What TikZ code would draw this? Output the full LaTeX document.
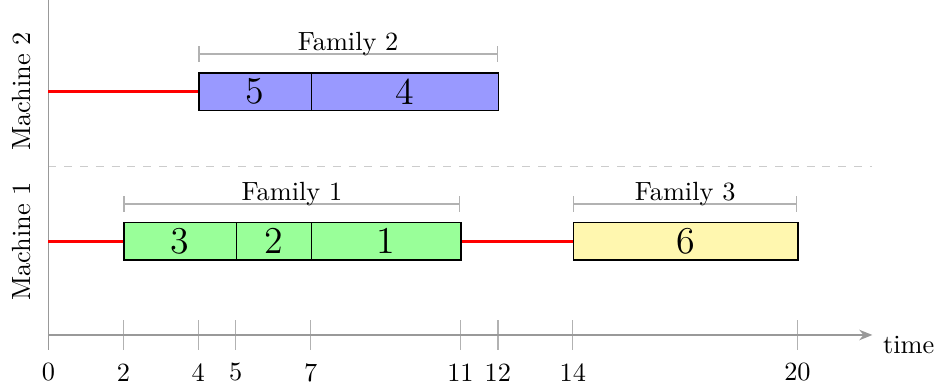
\documentclass[tikz,border=0pt]{standalone}
\usetikzlibrary{arrows.meta}
\definecolor{paleyellow}{RGB}{255,247,175}
\begin{document}
\begin{tikzpicture}[x=0.5cm,y=0.5cm,
  jobbox/.style={draw=black, line width=0.5pt, minimum height=5mm, minimum width=#1*5mm,
                 inner sep=0pt, anchor=west, font=\Large},
  idle/.style={red, line width=1pt},
  axisline/.style={gray!80, line width=0.5pt},
  tickline/.style={gray!60, line width=0.5pt},
  sepline/.style={gray!40, line width=0.5pt, dashed},
  famline/.style={gray!60, line width=0.5pt, {Bar[width=6pt]}-{Bar[width=6pt]}},
  famlabel/.style={anchor=base, inner sep=0pt},
  ticklabel/.style={inner sep=0pt},
  machlabel/.style={rotate=90, inner sep=0pt}
]
\useasboundingbox (-1.295,-1.495) rectangle (23.752,8.945);

% separator
\draw[sepline] (0,4.5) coordinate (sepA) -- (22,4.5) coordinate (sepB);

% ticks
\foreach \t in {2,4,5,7,11,12,14,20}{
  \draw[tickline] (\t,-0.4) -- (\t,0.4);
}
% axes
\coordinate (o) at (0,0);
\coordinate (xend) at (22,0);
\coordinate (ybot) at (0,-0.4);
\coordinate (ytop) at (0,9);
\draw[axisline] (ybot) -- (ytop);
\draw[axisline, -{Stealth[length=5pt,width=4pt]}] (o) -- (xend);

% tick labels
\foreach \t in {0,2,4,5,7,11,12,14,20}{
  \node[ticklabel] (tl\t) at (\t,-1.0) {\t};
}
\node[anchor=base, inner sep=0pt] (timelabel) at (22.97,-0.49) {time};

% machine labels
\node[machlabel] (m1) at (-0.71,2.5) {Machine 1};
\node[machlabel] (m2) at (-0.71,6.5) {Machine 2};

% machine 1 jobs
\node[jobbox=3, fill=green!40] (j3) at (2,2.5) {3};
\node[jobbox=2, fill=green!40] (j2) at (5,2.5) {2};
\node[jobbox=4, fill=green!40] (j1) at (7,2.5) {1};
\node[jobbox=6, fill=paleyellow] (j6) at (14,2.5) {6};

% machine 2 jobs
\node[jobbox=3, fill=blue!40] (j5) at (4,6.5) {5};
\node[jobbox=5, fill=blue!40] (j4) at (7,6.5) {4};

% idle times
\coordinate (m1start) at (0,2.5);
\coordinate (m2start) at (0,6.5);
\draw[idle] (m1start) -- (j3.west);
\draw[idle] (j1.east) -- (j6.west);
\draw[idle] (m2start) -- (j5.west);

% families
\draw[famline] (2,3.5) coordinate (f1a) -- (11,3.5) coordinate (f1b);
\node[famlabel] (fam1) at (6.5,3.59) {Family 1};
\draw[famline] (14,3.5) coordinate (f3a) -- (20,3.5) coordinate (f3b);
\node[famlabel] (fam3) at (17,3.59) {Family 3};
\draw[famline] (4,7.5) coordinate (f2a) -- (12,7.5) coordinate (f2b);
\node[famlabel] (fam2) at (8,7.59) {Family 2};
\end{tikzpicture}
\end{document}
